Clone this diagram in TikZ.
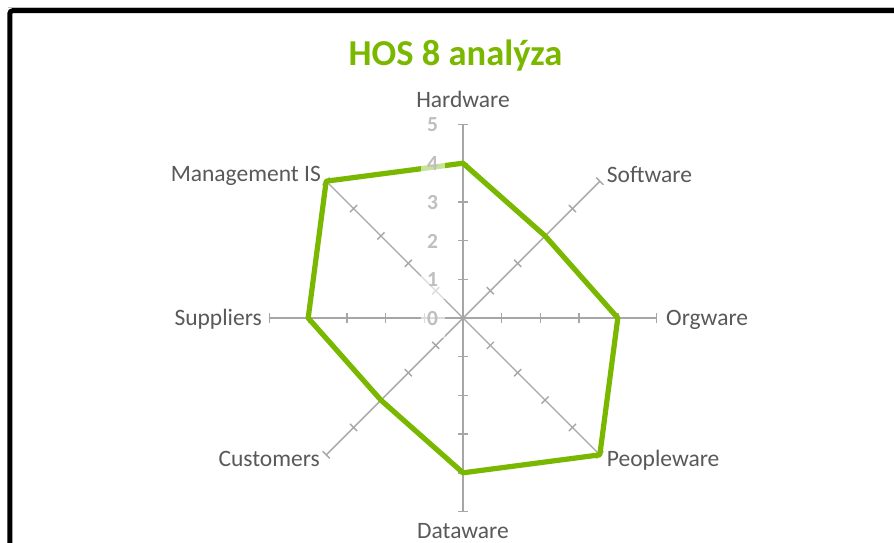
\documentclass[tikz,border=0pt]{standalone}
\usepackage{fontspec}
\setmainfont{Carlito}
\usetikzlibrary{calc}
\definecolor{hosgreen}{HTML}{7AB800}
\definecolor{labelgray}{HTML}{595959}
\definecolor{axisgray}{HTML}{A6A6A6}
\definecolor{numgray}{HTML}{BFBFBF}
\begin{document}
\begin{tikzpicture}[x=1pt,y=-1pt,
  axis/.style={draw=axisgray,line width=1.4pt},
  poly/.style={draw=hosgreen,line width=5.2pt,line join=round},
  lbl/.style={inner sep=0pt,text=labelgray,font=\fontsize{23.5}{25}\selectfont},
  num/.style={inner sep=0pt,text=numgray,font=\bfseries\fontsize{21.5}{22}\selectfont,
    fill=white,fill opacity=0.6,text opacity=1,minimum width=24pt,minimum height=38pt},
  frame/.style={draw=black,line width=5pt,rounded corners=3pt}]
\useasboundingbox (0,0) rectangle (894,542);
\fill[white] (0,0) rectangle (894,542);
\draw[gray!50,line width=1pt] (8,7) -- (900,7);
\draw[frame] (9.8,600) -- (9.8,10.7) -- (950,10.7);

\node[inner sep=0pt,text=hosgreen,font=\bfseries\fontsize{36.5}{38}\selectfont,anchor=base] (title) at (455.5,65) {HOS 8 analýza};

\coordinate (C) at (463,318);
\def\u{38.7}
% axes with ticks
\foreach \ang/\nm in {-90/hw,-45/sw,0/og,45/pw,90/dw,135/cu,180/su,225/mi}{
  \draw[axis] (C) -- ($(C)+(\ang:5*\u)$) coordinate (\nm);
  \foreach \k in {1,...,5}{
    \draw[axis] ($(C)+(\ang:\k*\u)+(\ang+90:5)$) -- ($(C)+(\ang:\k*\u)+(\ang-90:5)$);
  }
}
% data points
\foreach \ang/\v/\i in {-90/4/1,-45/3/2,0/4/3,45/5/4,90/4/5,135/3/6,180/4/7,225/5/8}{
  \coordinate (p\i) at ($(C)+(\ang:\v*\u)$);
}
\draw[poly] (p1) -- (p2) -- (p3) -- (p4) -- (p5) -- (p6) -- (p7) -- (p8) -- cycle;

% scale numbers
\foreach \k in {0,...,5}{
  \node[num] (n\k) at (432.5,318.5-\k*\u) {\k};
}

% category labels
\node[lbl,anchor=base] (lhw) at (463,107.3) {Hardware};
\node[lbl,anchor=base west] (lsw) at (606.7,182.3) {Software};
\node[lbl,anchor=base west] (log) at (666,325) {Orgware};
\node[lbl,anchor=base west] (lpw) at (606.7,466.7) {Peopleware};
\node[lbl,anchor=base] (ldw) at (463,538.5) {Dataware};
\node[lbl,anchor=base east] (lcu) at (320,466.7) {Customers};
\node[lbl,anchor=base east] (lsu) at (262,325) {Suppliers};
\node[lbl,anchor=base east] (lmi) at (321,181.7) {Management IS};
\end{tikzpicture}
\end{document}
